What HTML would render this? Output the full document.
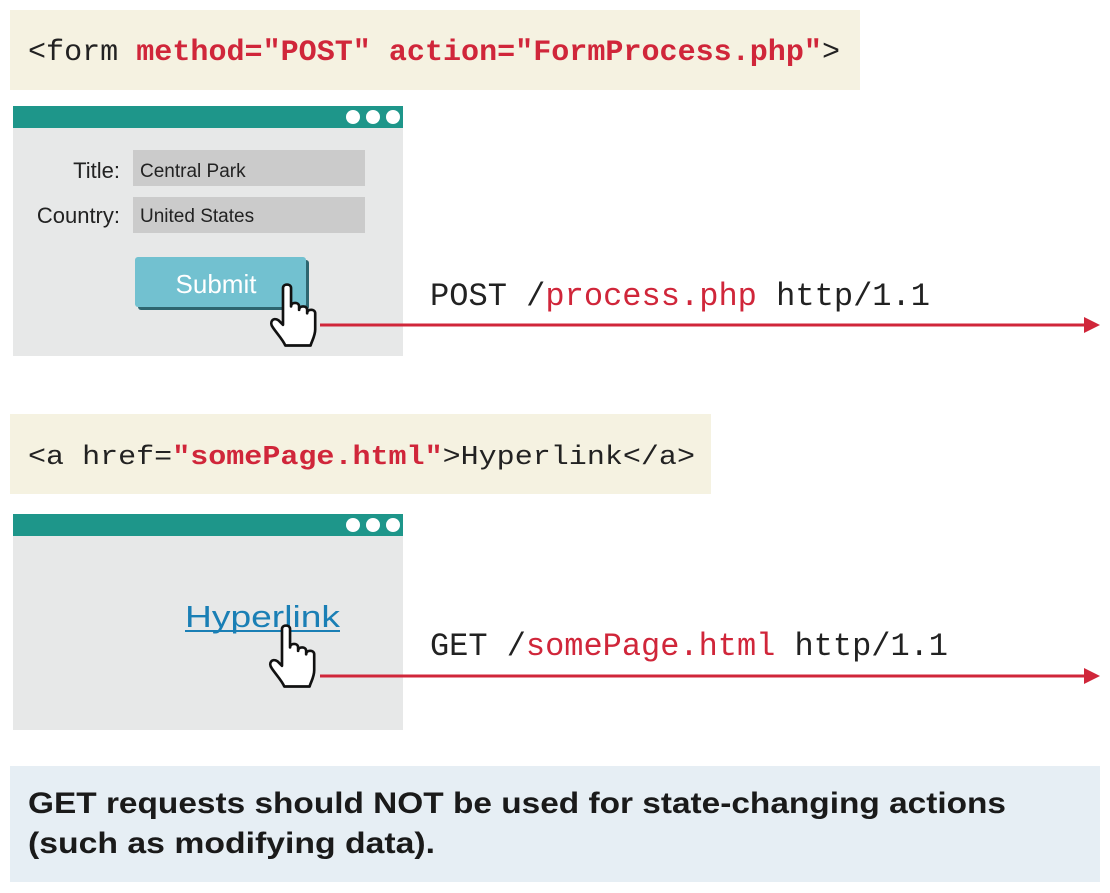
<!DOCTYPE html>
<html><head><meta charset="utf-8"><style>
html,body{margin:0;padding:0;background:#fff;}
svg{display:block}
.m{font-family:"Liberation Mono",monospace}
.s{font-family:"Liberation Sans",sans-serif}
</style></head><body>
<svg width="1110" height="893" viewBox="0 0 1110 893" xmlns="http://www.w3.org/2000/svg">
<defs>
<g id="hand">
<path d="M0,0 c0,-4 7,-4 7,0 v16 c0,-4 7,-4 7,0 v3 c0,-4 7,-4 7,0 v3 c0,-4 7,-4 7,0 v14 c0,6 -3,10 -4,14 h-22 c-2,-5 -7,-10 -11,-16 c-3,-4 0,-9 5,-6 l4,4 z" fill="#fff" stroke="#111" stroke-width="2.3" stroke-linejoin="round"/>
</g>
</defs>
<rect x="10" y="10" width="850" height="80" fill="#f5f2e1"/>
<text x="28" y="60" class="m" font-size="30" textLength="812" lengthAdjust="spacingAndGlyphs" fill="#222">&lt;form <tspan fill="#d0263a" font-weight="bold">method="POST" action="FormProcess.php"</tspan>&gt;</text>
<rect x="13" y="106" width="390" height="250" fill="#e7e8e8"/>
<rect x="13" y="106" width="390" height="22" fill="#1e968a"/>
<circle cx="353" cy="117" r="7" fill="#fff"/><circle cx="373" cy="117" r="7" fill="#fff"/><circle cx="393" cy="117" r="7" fill="#fff"/>
<text x="120" y="178" text-anchor="end" class="s" font-size="22" fill="#222">Title:</text>
<text x="120" y="223" text-anchor="end" class="s" font-size="22" fill="#222">Country:</text>
<rect x="133" y="150" width="232" height="36" fill="#cbcbcb"/>
<rect x="133" y="197" width="232" height="36" fill="#cbcbcb"/>
<text x="140" y="177" class="s" font-size="19" fill="#222">Central Park</text>
<text x="140" y="222" class="s" font-size="19" fill="#222">United States</text>
<rect x="138" y="260" width="171" height="50" rx="3" fill="#2e6670"/>
<rect x="135" y="257" width="171" height="50" rx="3" fill="#72c1d0"/>
<text x="216" y="293" text-anchor="middle" class="s" font-size="26" fill="#fff">Submit</text>
<use href="#hand" transform="translate(283,288) scale(1.15)"/>
<line x1="320" y1="325" x2="1088" y2="325" stroke="#d0263a" stroke-width="3"/>
<polygon points="1100,325 1084,317 1084,333" fill="#d0263a"/>
<text x="430" y="305" class="m" font-size="32" textLength="500" lengthAdjust="spacingAndGlyphs" fill="#222">POST /<tspan fill="#d0263a">process.php</tspan> http/1.1</text>
<rect x="10" y="414" width="701" height="80" fill="#f5f2e1"/>
<text x="28" y="464" class="m" font-size="27" textLength="667" lengthAdjust="spacingAndGlyphs" fill="#222">&lt;a href=<tspan fill="#d0263a" font-weight="bold">"somePage.html"</tspan>&gt;Hyperlink&lt;/a&gt;</text>
<rect x="13" y="514" width="390" height="216" fill="#e7e8e8"/>
<rect x="13" y="514" width="390" height="22" fill="#1e968a"/>
<circle cx="353" cy="525" r="7" fill="#fff"/><circle cx="373" cy="525" r="7" fill="#fff"/><circle cx="393" cy="525" r="7" fill="#fff"/>
<text x="185" y="627" class="s" font-size="31" textLength="155" lengthAdjust="spacingAndGlyphs" fill="#1a7fb5">Hyperlink</text>
<rect x="185" y="630" width="155" height="2" fill="#1a7fb5"/>
<use href="#hand" transform="translate(282,629) scale(1.15)"/>
<line x1="320" y1="676" x2="1088" y2="676" stroke="#d0263a" stroke-width="3"/>
<polygon points="1100,676 1084,668 1084,684" fill="#d0263a"/>
<text x="430" y="655" class="m" font-size="32" textLength="518" lengthAdjust="spacingAndGlyphs" fill="#222">GET /<tspan fill="#d0263a">somePage.html</tspan> http/1.1</text>
<rect x="10" y="766" width="1090" height="116" fill="#e6eef4"/>
<text x="28" y="813" class="s" font-size="30" font-weight="bold" textLength="978" lengthAdjust="spacingAndGlyphs" fill="#1a1a1a">GET requests should NOT be used for state-changing actions</text>
<text x="28" y="853" class="s" font-size="30" font-weight="bold" textLength="407" lengthAdjust="spacingAndGlyphs" fill="#1a1a1a">(such as modifying data).</text>
</svg>
</body></html>
